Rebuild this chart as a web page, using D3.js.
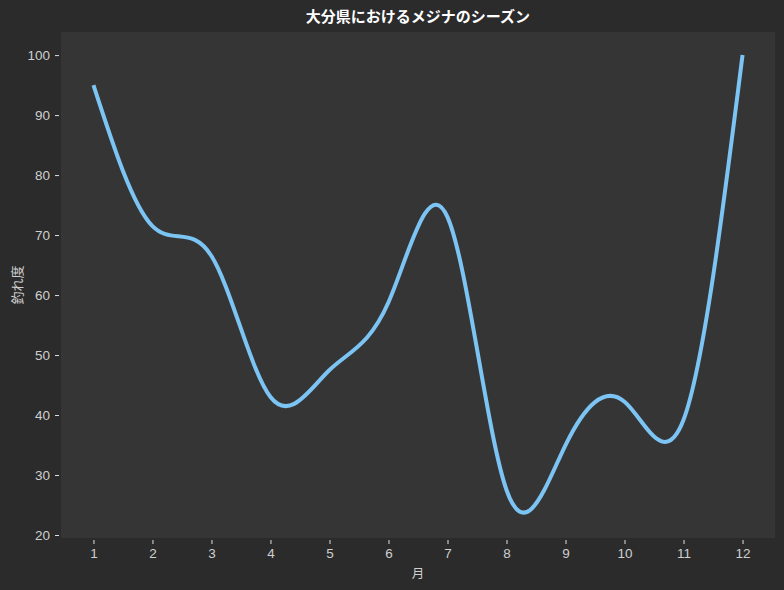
<!DOCTYPE html>
<html>
<head>
<meta charset="utf-8">
<script src="https://cdn.jsdelivr.net/npm/d3@7"></script>
<style>
  body { margin: 0; background: #2b2b2b; }
  svg { display: block; font-family: "Noto Sans CJK JP", "Noto Sans", sans-serif; }
  .tick text { fill: #cfcfcf; font-size: 13.5px; }
  .tick line { stroke: #e0e0e0; }
</style>
</head>
<body>
<div id="chart"></div>
<script>
var months = [1, 2, 3, 4, 5, 6, 7, 8, 9, 10, 11, 12];
var scores = [95, 71.5, 66.5, 43, 47.5, 58.8, 73, 27.5, 35, 42.2, 39.2, 100];
var yTicks = [20, 30, 40, 50, 60, 70, 80, 90, 100];

var title = '大分県におけるメジナのシーズン',
    xLabel = '月',
    yLabel = '釣れ度';

var W = 784, H = 590;
var margin = { top: 32, right: 9, bottom: 52, left: 61 },
    width = W - margin.left - margin.right,
    height = H - margin.top - margin.bottom;

var svg = d3.select('#chart').append('svg')
    .attr('width', W)
    .attr('height', H);

svg.append('rect')
    .attr('width', W)
    .attr('height', H)
    .attr('fill', '#2b2b2b');

var g = svg.append('g')
    .attr('transform', 'translate(' + margin.left + ',' + margin.top + ')');

g.append('rect')
    .attr('width', width)
    .attr('height', height)
    .attr('fill', '#353535');

// matplotlib-like 5% padding
var x = d3.scaleLinear()
    .domain([0.45, 12.55])
    .range([0, width]);

var y = d3.scaleLinear()
    .domain([19.5, 103.85])
    .range([height, 0]);

var xAxis = d3.axisBottom(x)
    .tickValues(months)
    .tickFormat(d3.format('d'))
    .tickSize(4)
    .tickPadding(4);

var yAxis = d3.axisLeft(y)
    .tickValues(yTicks)
    .tickFormat(d3.format('d'))
    .tickSize(4)
    .tickPadding(5);

g.append('g')
    .attr('transform', 'translate(0,' + (height + 2) + ')')
    .call(xAxis)
    .call(function (s) { s.select('.domain').remove(); });

g.append('g')
    .attr('transform', 'translate(-2,0)')
    .call(yAxis)
    .call(function (s) { s.select('.domain').remove(); });

var line = d3.line()
    .x(function (d, i) { return x(months[i]); })
    .y(function (d) { return y(d); })
    .curve(d3.curveNatural);

g.append('path')
    .datum(scores)
    .attr('fill', 'none')
    .attr('stroke', '#7cc4f4')
    .attr('stroke-width', 4)
    .attr('stroke-linejoin', 'round')
    .attr('d', line);

svg.append('text')
    .attr('x', margin.left + width / 2)
    .attr('y', 22)
    .attr('text-anchor', 'middle')
    .attr('fill', '#ffffff')
    .attr('font-size', '15px')
    .attr('font-weight', 'bold')
    .text(title);

svg.append('text')
    .attr('x', margin.left + width / 2)
    .attr('y', 578)
    .attr('text-anchor', 'middle')
    .attr('fill', '#cfcfcf')
    .attr('font-size', '12.5px')
    .text(xLabel);

svg.append('text')
    .attr('transform', 'translate(22,' + (margin.top + height / 2) + ') rotate(-90)')
    .attr('text-anchor', 'middle')
    .attr('fill', '#cfcfcf')
    .attr('font-size', '13px')
    .text(yLabel);
</script>
</body>
</html>
